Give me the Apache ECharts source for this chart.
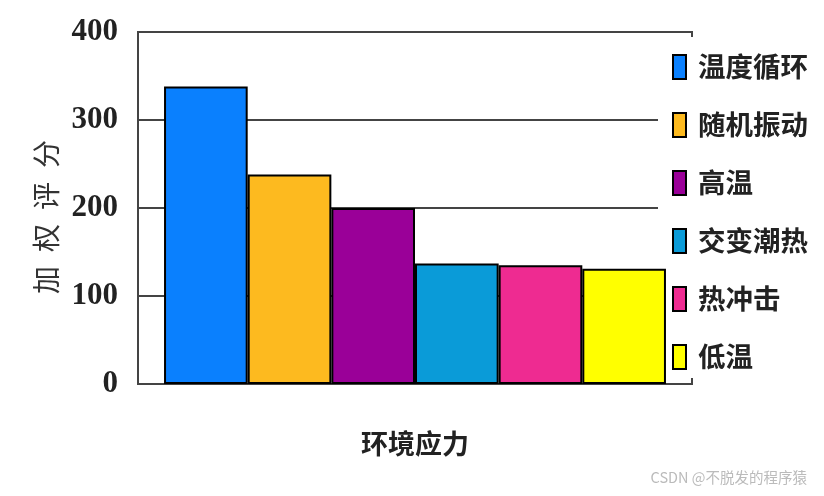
<!DOCTYPE html>
<html>
<head>
<meta charset="utf-8">
<script src="https://cdn.jsdelivr.net/npm/echarts@6/dist/echarts.min.js"></script>
<style>html,body{margin:0;padding:0;background:#fff;}#c{width:824px;height:496px;}</style>
</head>
<body>
<div id="c"></div>
<script>
const categories = ['环境应力'];
const seriesNames = ['温度循环', '随机振动', '高温', '交变潮热', '热冲击', '低温'];
const seriesValues = [338, 238, 200, 137, 135, 131];
const seriesColors = ['#0A80FE', '#FDBA1F', '#9A0098', '#0A9BD8', '#EE2B91', '#FFFF00'];
const yTicks = { min: 0, max: 400, interval: 100 };
const yName = '加\u2002权\u2002评\u2002分';
const watermark = 'CSDN @不脱发的程序猿';

const chart = echarts.init(document.getElementById('c'), null, { renderer: 'canvas' });
const cjk = '"Noto Sans CJK SC", sans-serif';
const series = seriesNames.map((n, i) => ({
  name: n,
  type: 'bar',
  z: 2,
  barGap: '0%',
  barCategoryGap: '9.4%',
  data: [seriesValues[i]],
  itemStyle: { color: seriesColors[i], borderColor: '#000', borderWidth: 2 },
  emphasis: { disabled: true }
}));

chart.setOption({
  animation: false,
  backgroundColor: '#fff',
  title: {
    text: watermark, right: 12, bottom: 6,
    textStyle: { color: '#bbb', fontSize: 14.5, fontWeight: 'normal', fontFamily: cjk }
  },
  grid: {
    left: 138, right: 132, top: 32, bottom: 112,
    show: true, borderColor: '#444', borderWidth: 2, backgroundColor: 'transparent', z: 0
  },
  legend: {
    orient: 'vertical',
    left: 658, top: 37,
    z: 1,
    padding: [16, 20, 7, 14],
    backgroundColor: '#fff',
    itemWidth: 13, itemHeight: 24, itemGap: 30,
    selectedMode: false,
    icon: 'rect',
    itemStyle: { borderColor: '#000', borderWidth: 2 },
    textStyle: { fontFamily: cjk, fontWeight: 'bold', fontSize: 27.5, lineHeight: 28, color: '#222', padding: [0, 0, 0, 7] },
    data: seriesNames
  },
  xAxis: {
    type: 'category',
    data: categories,
    axisLine: { show: true, lineStyle: { color: '#444', width: 2 } },
    axisTick: { show: false },
    axisLabel: { margin: 46, fontFamily: cjk, fontWeight: 'bold', fontSize: 27, color: '#222' }
  },
  yAxis: {
    type: 'value',
    min: yTicks.min, max: yTicks.max, interval: yTicks.interval,
    name: yName,
    nameLocation: 'middle',
    nameRotate: 90,
    nameGap: 68,
    nameTextStyle: { fontFamily: cjk, fontSize: 28, color: '#333', padding: [0, 18, 0, 0] },
    axisLine: { show: true, lineStyle: { color: '#444', width: 2 } },
    axisTick: { show: false },
    splitLine: { show: true, lineStyle: { color: '#444', width: 2 } },
    axisLabel: { margin: 20, fontFamily: '"Liberation Serif", serif', fontWeight: 'bold', fontSize: 31, color: '#222' }
  },
  series: series
});
</script>
</body>
</html>
